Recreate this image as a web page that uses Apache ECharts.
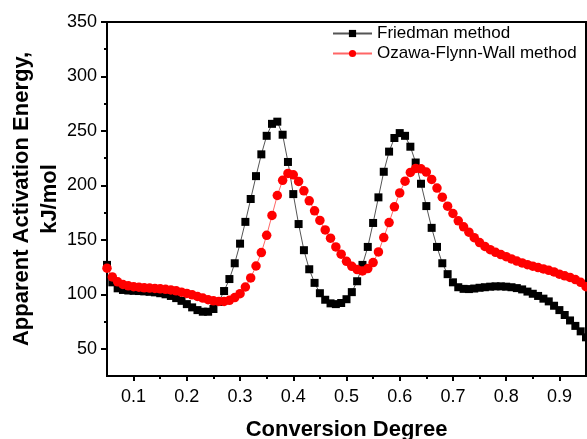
<!DOCTYPE html>
<html>
<head>
<meta charset="utf-8">
<script src="https://cdn.jsdelivr.net/npm/echarts@6.0.0/dist/echarts.min.js"></script>
<style>
  html, body { margin: 0; padding: 0; background: #fff; }
  #main { width: 587px; height: 439px; }
</style>
</head>
<body>
<div id="main"></div>
<script type="text/javascript">
    // conversion degree (x)
    var conversion = [
        0.05, 0.06, 0.07, 0.08, 0.09, 0.10, 0.11, 0.12, 0.13, 0.14,
        0.15, 0.16, 0.17, 0.18, 0.19, 0.20, 0.21, 0.22, 0.23, 0.24,
        0.25, 0.26, 0.27, 0.28, 0.29, 0.30, 0.31, 0.32, 0.33, 0.34,
        0.35, 0.36, 0.37, 0.38, 0.39, 0.40, 0.41, 0.42, 0.43, 0.44,
        0.45, 0.46, 0.47, 0.48, 0.49, 0.50, 0.51, 0.52, 0.53, 0.54,
        0.55, 0.56, 0.57, 0.58, 0.59, 0.60, 0.61, 0.62, 0.63, 0.64,
        0.65, 0.66, 0.67, 0.68, 0.69, 0.70, 0.71, 0.72, 0.73, 0.74,
        0.75, 0.76, 0.77, 0.78, 0.79, 0.80, 0.81, 0.82, 0.83, 0.84,
        0.85, 0.86, 0.87, 0.88, 0.89, 0.90, 0.91, 0.92, 0.93, 0.94,
        0.95
    ];
    // Friedman method, kJ/mol
    var friedman = [
        127, 111, 105.5, 104, 103.5, 103.2, 103, 102.7, 102.3, 101.8,
        101, 100, 98.5, 96.5, 94, 91, 88, 85.5, 84, 84,
        86.5, 93, 103, 114, 128.5, 146.5, 166.5, 187.5, 208.5, 228.5,
        245.5, 256.5, 258.5, 246.5, 221.5, 192, 164.5, 140.5, 123, 110.5,
        101, 95, 91.7, 91, 92, 95.5, 102, 112, 127, 143.5,
        165.5, 189, 212.5, 231, 243.5, 248, 245.5, 235.5, 221, 201.5,
        181, 161, 143.5, 128.5, 118.5, 111, 106.5, 105, 104.8, 105.3,
        106, 106.5, 107, 107.3, 107.3, 107, 106.5, 105.7, 104.5, 102.5,
        100.5, 98.5, 96, 93.5, 89.5, 85.5, 81, 76, 71, 66,
        60.5
    ];
    // Ozawa-Flynn-Wall method, kJ/mol
    var ofw = [
        124, 116, 111.5, 109, 107.8, 107, 106.5, 106, 105.7, 105.4,
        105, 104.6, 104, 103.2, 102, 100.8, 99.5, 98, 96.5, 95,
        94, 93.5, 93.5, 94.5, 97, 100.6, 106.7, 115, 126, 138.3,
        154.2, 172.4, 190.7, 204.6, 211, 209.7, 203.6, 195, 185.8, 176.6,
        167.8, 159.1, 151.5, 143.5, 136.8, 130.3, 125.7, 122.7, 121.4, 123.6,
        129.1, 138.9, 152.1, 165.9, 180.3, 193.1, 203.9, 211.9, 215.6, 215.2,
        212.2, 205.5, 197.5, 189.2, 180.9, 174.2, 167.5, 162, 157, 152,
        147.5, 144, 141, 138.5, 136.5, 134.5, 132.5, 130.5, 128.8, 127.2,
        125.8, 124.5, 123.3, 122, 120.5, 118.5, 117, 115.5, 113.5, 111,
        107
    ];
    // tick labels
    var xTicks = [0.1, 0.2, 0.3, 0.4, 0.5, 0.6, 0.7, 0.8, 0.9];
    var xMinorTicks = [0.15, 0.25, 0.35, 0.45, 0.55, 0.65, 0.75, 0.85];
    var yTicks = [50, 100, 150, 200, 250, 300, 350];
    var yMinorTicks = [75, 125, 175, 225, 275, 325];

    function pairs(xs, ys) {
        return xs.map(function (x, i) { return [x, ys[i]]; });
    }

    var font = 'Liberation Sans, Arial, sans-serif';
    var myChart = echarts.init(document.getElementById('main'));

    var option = {
        backgroundColor: '#fff',
        animation: false,
        textStyle: { fontFamily: font, color: '#000' },
        grid: {
            left: 107, right: 1, top: 22, bottom: 63,
            outerBoundsMode: 'none',
            containLabel: false,
            show: true, borderColor: '#000', borderWidth: 2
        },
        legend: {
            orient: 'vertical',
            left: 332,
            top: 25,
            padding: 0,
            itemGap: 3,
            itemWidth: 39,
            itemHeight: 9,
            textStyle: { fontFamily: font, fontSize: 17, color: '#000' },
            data: ['Friedman method', 'Ozawa-Flynn-Wall method']
        },
        xAxis: [{
            type: 'value',
            min: 0.05,
            max: 0.95,
            name: 'Conversion Degree',
            nameLocation: 'middle',
            nameGap: 43,
            nameMoveOverlap: false,
            nameTextStyle: { fontFamily: font, fontSize: 22, fontWeight: 'bold', color: '#000' },
            axisLine: { lineStyle: { color: '#000', width: 2 } },
            axisTick: { customValues: xTicks, length: 5, lineStyle: { color: '#000', width: 2 } },
            axisLabel: {
                customValues: xTicks, margin: 12, fontSize: 18, color: '#000', fontFamily: font,
                formatter: function (v) { return v.toFixed(1); }
            },
            splitLine: { show: false }
        }, {
            type: 'value',
            min: 0.05,
            max: 0.95,
            position: 'bottom',
            axisLine: { show: false },
            axisTick: { customValues: xMinorTicks, length: 3, lineStyle: { color: '#000', width: 2 } },
            axisLabel: { show: false },
            splitLine: { show: false }
        }],
        yAxis: [{
            type: 'value',
            min: 25,
            max: 350,
            name: 'Apparent Activation Energy,\nkJ/mol',
            nameLocation: 'middle',
            nameGap: 43,
            nameMoveOverlap: false,
            nameTextStyle: {
                fontFamily: font, fontSize: 22, fontWeight: 'bold', color: '#000',
                lineHeight: 28, align: 'center'
            },
            axisLine: { show: true, lineStyle: { color: '#000', width: 2 } },
            axisTick: { customValues: yTicks, length: 6, lineStyle: { color: '#000', width: 2 } },
            axisLabel: { customValues: yTicks, margin: 10, fontSize: 18, color: '#000', fontFamily: font },
            splitLine: { show: false }
        }, {
            type: 'value',
            min: 25,
            max: 350,
            position: 'left',
            axisLine: { show: false },
            axisTick: { show: true, customValues: yMinorTicks, length: 3, lineStyle: { color: '#000', width: 2 } },
            axisLabel: { show: false },
            splitLine: { show: false }
        }],
        series: [{
            name: 'Friedman method',
            type: 'line',
            data: pairs(conversion, friedman),
            symbol: 'rect',
            symbolSize: 8,
            itemStyle: { color: '#000' },
            lineStyle: { color: '#555', width: 1 },
            z: 2
        }, {
            name: 'Ozawa-Flynn-Wall method',
            type: 'line',
            data: pairs(conversion, ofw),
            symbol: 'circle',
            symbolSize: 9.5,
            itemStyle: { color: '#ff0000' },
            lineStyle: { color: '#ff6666', width: 1 },
            z: 3
        }]
    };

    myChart.setOption(option);
</script>
</body>
</html>
